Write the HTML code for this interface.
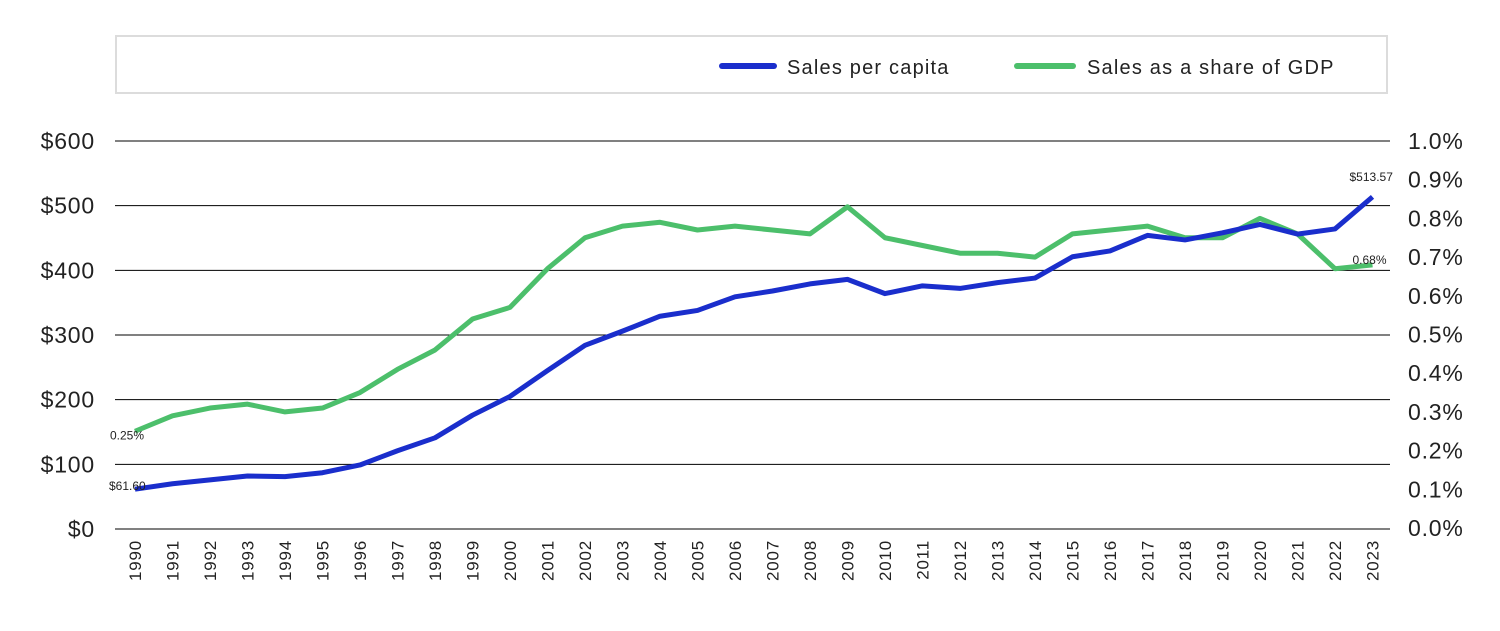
<!DOCTYPE html>
<html><head><meta charset="utf-8"><style>
body{margin:0;background:#fff;width:1500px;height:626px;overflow:hidden;font-family:"Liberation Sans",sans-serif}
text{letter-spacing:0.8px}
</style></head><body>
<svg id="chart" width="1500" height="626">
<rect x="116" y="36" width="1271" height="57" fill="#fff" stroke="#dcdcdc" stroke-width="2"/>
<g>
<line x1="722" y1="66" x2="774" y2="66" stroke="#1a2ecc" stroke-width="6" stroke-linecap="round"/>
<text x="787" y="74" font-size="20" fill="#222" style="letter-spacing:1.2px">Sales per capita</text></g>
<g>
<line x1="1017" y1="66" x2="1073" y2="66" stroke="#4cbf6b" stroke-width="6" stroke-linecap="round"/>
<text x="1087" y="74" font-size="20" fill="#222" style="letter-spacing:1.2px">Sales as a share of GDP</text></g>
<g id="grid"></g><g id="axes"></g><g id="lines"></g>
</svg>
<script>
const years=[];for(let y=1990;y<=2023;y++)years.push(String(y));
const salesPerCapita=[61.6,70,76,82,81,87,99,121,141,176,205,245,284,306,329,338,359,368,379,386,364,376,372,381,388,421,430,454,447,458,471,456,464,513.57];
const shareOfGdp=[0.25,0.29,0.31,0.32,0.30,0.31,0.35,0.41,0.46,0.54,0.57,0.67,0.75,0.78,0.79,0.77,0.78,0.77,0.76,0.83,0.75,0.73,0.71,0.71,0.70,0.76,0.77,0.78,0.75,0.75,0.80,0.76,0.67,0.68];
const leftTicks=[0,100,200,300,400,500,600];
const rightTicks=[0,0.1,0.2,0.3,0.4,0.5,0.6,0.7,0.8,0.9,1.0];
const NS="http://www.w3.org/2000/svg";
const x=i=>135+i*37.5;
const yL=v=>529-v*0.6467;
const yR=v=>528-v*387;
function mk(t,a,p){const e=document.createElementNS(NS,t);for(const k in a)e.setAttribute(k,a[k]);p.appendChild(e);return e;}
const grid=document.getElementById('grid'),axes=document.getElementById('axes'),lines=document.getElementById('lines');
leftTicks.forEach(v=>{
 const l=mk('line',{x1:115,x2:1390,y1:yL(v),y2:yL(v),stroke:'#000','stroke-width':1},grid);
 
 
 const t=mk('text',{x:95,y:yL(v)+8,'font-size':23,'text-anchor':'end',fill:'#222'},axes);
 t.textContent='$'+v;
 
 
});
rightTicks.forEach(v=>{
 const t=mk('text',{x:1408,y:yR(v)+8,'font-size':23,fill:'#222'},axes);
 t.textContent=v.toFixed(1)+'%';
 
 
});
years.forEach((yr,i)=>{
 const t=mk('text',{x:0,y:0,'font-size':17,'text-anchor':'end',fill:'#222',transform:`translate(${x(i)+6},540) rotate(-90)`},axes);
 t.textContent=yr;
 
 
});
const g=mk('polyline',{points:shareOfGdp.map((v,i)=>x(i)+','+yR(v)).join(' '),fill:'none',stroke:'#4cbf6b','stroke-width':5,'stroke-linejoin':'round'},lines);


const b=mk('polyline',{points:salesPerCapita.map((v,i)=>x(i)+','+yL(v)).join(' '),fill:'none',stroke:'#1a2ecc','stroke-width':5,'stroke-linejoin':'round'},lines);


const n=years.length-1;
const l1=mk('text',{x:x(0)-25,y:yR(shareOfGdp[0])+8,'font-size':12,fill:'#222',style:'letter-spacing:0'},lines);l1.textContent=shareOfGdp[0].toFixed(2)+'%';


const l2=mk('text',{x:x(0)-26,y:yL(salesPerCapita[0])+1,'font-size':12,fill:'#222',style:'letter-spacing:0'},lines);l2.textContent='$'+salesPerCapita[0].toFixed(2);


const l3=mk('text',{x:x(n)-23,y:yL(salesPerCapita[n])-16,'font-size':12,fill:'#222',style:'letter-spacing:0'},lines);l3.textContent='$'+salesPerCapita[n].toFixed(2);


const l4=mk('text',{x:x(n)-20,y:yR(shareOfGdp[n])-1,'font-size':12,fill:'#222',style:'letter-spacing:0'},lines);l4.textContent=shareOfGdp[n].toFixed(2)+'%';


</script>
</body></html>
